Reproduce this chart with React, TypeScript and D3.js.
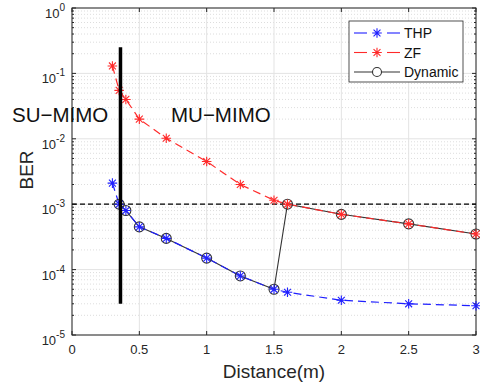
import React, { useEffect, useRef } from 'react';
import * as d3 from 'd3';

const thpX = [0.3, 0.35, 0.4, 0.5, 0.7, 1.0, 1.25, 1.5, 1.6, 2.0, 2.5, 3.0];
const thpY = [2.1e-3, 1.0e-3, 8.0e-4, 4.5e-4, 3.0e-4, 1.5e-4, 8.0e-5, 5.0e-5, 4.5e-5, 3.4e-5, 3.0e-5, 2.8e-5];
const zfX = [0.3, 0.35, 0.4, 0.5, 0.7, 1.0, 1.25, 1.5, 1.6, 2.0, 2.5, 3.0];
const zfY = [0.13, 0.055, 0.04, 0.02, 0.0102, 4.5e-3, 2.0e-3, 1.15e-3, 1.0e-3, 7.0e-4, 5.0e-4, 3.5e-4];
const dynX = [0.35, 0.4, 0.5, 0.7, 1.0, 1.25, 1.5, 1.6, 2.0, 2.5, 3.0];
const dynY = [1.0e-3, 8.0e-4, 4.5e-4, 3.0e-4, 1.5e-4, 8.0e-5, 5.0e-5, 1.0e-3, 7.0e-4, 5.0e-4, 3.5e-4];
const xTicks = [0, 0.5, 1, 1.5, 2, 2.5, 3];
const xTickLabels = ['0', '0.5', '1', '1.5', '2', '2.5', '3'];
const yExponents = [0, -1, -2, -3, -4, -5];
const legendLabels = ['THP', 'ZF', 'Dynamic'];
const threshold = 1e-3;
const switchX = 0.36;
const switchRange = [3e-5, 0.25];

const App = () => {
  const svgRef = useRef<SVGSVGElement>(null);

  useEffect(() => {
    const svg = d3.select(svgRef.current);
    svg.selectAll('*').remove();

    const width = 480;
    const height = 387;
    const margin = { top: 8, right: 4, bottom: 52, left: 72 };
    const innerW = width - margin.left - margin.right;
    const innerH = height - margin.top - margin.bottom;
    const font = 'Liberation Sans, Arial, sans-serif';

    const x = d3.scaleLinear().domain([0, 3]).range([0, innerW]);
    const y = d3.scaleLog().domain([1e-5, 1]).range([innerH, 0]);

    const g = svg.append('g').attr('transform', `translate(${margin.left},${margin.top})`);

    // minor y grid
    const minors: number[] = [];
    for (let e = -5; e < 0; e++) for (let k = 2; k <= 9; k++) minors.push(k * Math.pow(10, e));
    g.selectAll('.minor').data(minors).enter().append('line')
      .attr('x1', 0).attr('x2', innerW)
      .attr('y1', d => y(d)).attr('y2', d => y(d))
      .attr('stroke', '#d4d4d4').attr('stroke-width', 0.8).attr('stroke-dasharray', '1,2');

    // major grid
    g.selectAll('.gy').data(yExponents).enter().append('line')
      .attr('x1', 0).attr('x2', innerW)
      .attr('y1', d => y(Math.pow(10, d))).attr('y2', d => y(Math.pow(10, d)))
      .attr('stroke', '#e3e3e3').attr('stroke-width', 1);
    g.selectAll('.gx').data(xTicks).enter().append('line')
      .attr('y1', 0).attr('y2', innerH)
      .attr('x1', d => x(d)).attr('x2', d => x(d))
      .attr('stroke', '#e3e3e3').attr('stroke-width', 1);

    // axes box
    g.append('rect').attr('width', innerW).attr('height', innerH)
      .attr('fill', 'none').attr('stroke', '#262626').attr('stroke-width', 1);

    // ticks
    xTicks.forEach(t => {
      g.append('line').attr('x1', x(t)).attr('x2', x(t)).attr('y1', innerH).attr('y2', innerH - 4).attr('stroke', '#262626');
      g.append('line').attr('x1', x(t)).attr('x2', x(t)).attr('y1', 0).attr('y2', 4).attr('stroke', '#262626');
    });
    yExponents.forEach(e => {
      const yy = y(Math.pow(10, e));
      g.append('line').attr('x1', 0).attr('x2', 4).attr('y1', yy).attr('y2', yy).attr('stroke', '#262626');
      g.append('line').attr('x1', innerW).attr('x2', innerW - 4).attr('y1', yy).attr('y2', yy).attr('stroke', '#262626');
    });
    minors.forEach(m => {
      g.append('line').attr('x1', 0).attr('x2', 2).attr('y1', y(m)).attr('y2', y(m)).attr('stroke', '#262626');
      g.append('line').attr('x1', innerW).attr('x2', innerW - 2).attr('y1', y(m)).attr('y2', y(m)).attr('stroke', '#262626');
    });

    // tick labels
    g.selectAll('.xl').data(xTicks).enter().append('text')
      .attr('x', d => x(d)).attr('y', innerH + 19)
      .attr('text-anchor', 'middle').attr('font-family', font).attr('font-size', 13).attr('fill', '#262626')
      .text((d, i) => xTickLabels[i]);
    yExponents.forEach(e => {
      const t = g.append('text')
        .attr('x', -7).attr('y', y(Math.pow(10, e)) + 10)
        .attr('text-anchor', 'end').attr('font-family', font).attr('font-size', 13).attr('fill', '#262626');
      t.append('tspan').text('10');
      t.append('tspan').attr('dy', -7).attr('font-size', 10).text(String(e));
    });

    // axis labels
    svg.append('text').attr('x', margin.left + innerW / 2).attr('y', 378)
      .attr('text-anchor', 'middle').attr('font-family', font).attr('font-size', 19).attr('fill', '#262626')
      .text('Distance(m)');
    svg.append('text').attr('transform', `translate(33,170) rotate(-90)`)
      .attr('text-anchor', 'middle').attr('font-family', font).attr('font-size', 19).attr('fill', '#262626')
      .text('BER');

    // threshold
    g.append('line').attr('x1', 0).attr('x2', innerW).attr('y1', y(threshold)).attr('y2', y(threshold))
      .attr('stroke', '#000').attr('stroke-width', 1.3).attr('stroke-dasharray', '5,3');

    const line = d3.line<[number, number]>().x(d => x(d[0])).y(d => y(d[1]));
    const star = (sel: any, cx: number, cy: number, color: string, r = 4.8) => {
      const a = r * 0.72;
      const p = `M${cx - r},${cy}L${cx + r},${cy}M${cx},${cy - r}L${cx},${cy + r}M${cx - a},${cy - a}L${cx + a},${cy + a}M${cx - a},${cy + a}L${cx + a},${cy - a}`;
      sel.append('path').attr('d', p).attr('stroke', color).attr('stroke-width', 1.1).attr('fill', 'none');
    };

    // dynamic line
    const dyn: [number, number][] = dynX.map((v, i) => [v, dynY[i]]);
    g.append('path').datum(dyn).attr('d', line).attr('fill', 'none').attr('stroke', '#333').attr('stroke-width', 1.1);

    // THP
    const thp: [number, number][] = thpX.map((v, i) => [v, thpY[i]]);
    g.append('path').datum(thp).attr('d', line).attr('fill', 'none').attr('stroke', '#1f1fff')
      .attr('stroke-width', 1.2).attr('stroke-dasharray', '8,5');
    // ZF
    const zf: [number, number][] = zfX.map((v, i) => [v, zfY[i]]);
    g.append('path').datum(zf).attr('d', line).attr('fill', 'none').attr('stroke', '#ff2a2a')
      .attr('stroke-width', 1.2).attr('stroke-dasharray', '8,5');

    dyn.forEach(d => {
      g.append('circle').attr('cx', x(d[0])).attr('cy', y(d[1])).attr('r', 5)
        .attr('fill', 'none').attr('stroke', '#333').attr('stroke-width', 1.1);
    });
    thp.forEach(d => star(g, x(d[0]), y(d[1]), '#1f1fff'));
    zf.forEach(d => star(g, x(d[0]), y(d[1]), '#ff2a2a'));

    // switch line
    g.append('line').attr('x1', x(switchX)).attr('x2', x(switchX))
      .attr('y1', y(switchRange[0])).attr('y2', y(switchRange[1]))
      .attr('stroke', '#000').attr('stroke-width', 3.5);

    // region labels
    svg.append('text').attr('x', 12).attr('y', 122).attr('font-family', font).attr('font-size', 20.5).attr('fill', '#111').text('SU\u2212MIMO');
    svg.append('text').attr('x', 171).attr('y', 122).attr('font-family', font).attr('font-size', 20.5).attr('fill', '#111').text('MU\u2212MIMO');

    // legend
    const lg = svg.append('g').attr('transform', 'translate(349,21)');
    lg.append('rect').attr('width', 114).attr('height', 61).attr('fill', '#fff').attr('stroke', '#262626').attr('stroke-width', 0.8);
    const colors = ['#1f1fff', '#ff2a2a', '#333'];
    legendLabels.forEach((lab, i) => {
      const ly = 12 + i * 19.5;
      const c = colors[i];
      if (i < 2) {
        lg.append('line').attr('x1', 5).attr('x2', 18).attr('y1', ly).attr('y2', ly).attr('stroke', c).attr('stroke-width', 1.1);
        lg.append('line').attr('x1', 38).attr('x2', 51).attr('y1', ly).attr('y2', ly).attr('stroke', c).attr('stroke-width', 1.1);
        star(lg, 28, ly, c);
      } else {
        lg.append('line').attr('x1', 5).attr('x2', 51).attr('y1', ly).attr('y2', ly).attr('stroke', c).attr('stroke-width', 1.1);
        lg.append('circle').attr('cx', 28).attr('cy', ly).attr('r', 4.5).attr('fill', '#fff').attr('stroke', c).attr('stroke-width', 1.1);
      }
      lg.append('text').attr('x', 55).attr('y', ly + 5).attr('font-family', font).attr('font-size', 14).attr('fill', '#111').text(lab);
    });
  }, []);

  return <svg ref={svgRef} width={480} height={387} style={{ position: 'absolute', left: 0, top: 0, background: '#fff' }} />;
};

export default App;
